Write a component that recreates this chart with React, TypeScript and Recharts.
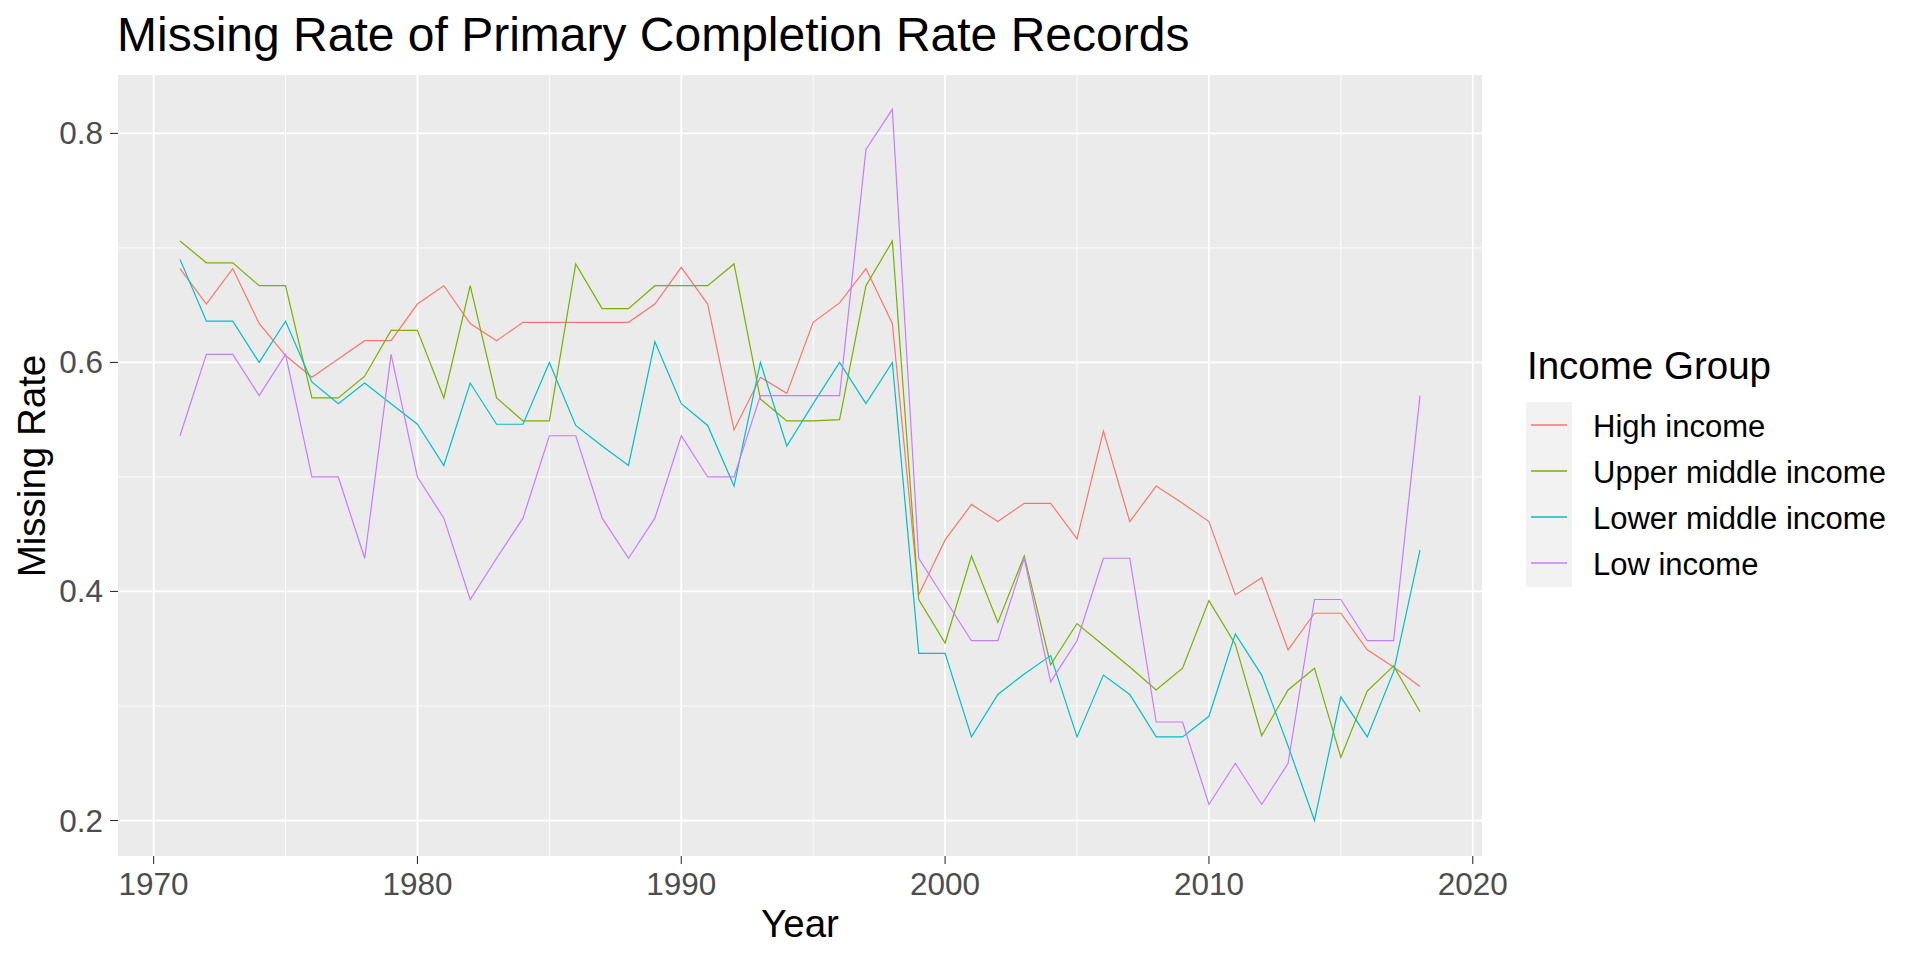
import React from 'react';
import { LineChart, Line, XAxis, YAxis, CartesianGrid, Legend } from 'recharts';

const years = [
  1971, 1972, 1973, 1974, 1975, 1976, 1977, 1978, 1979, 1980, 1981, 1982,
  1983, 1984, 1985, 1986, 1987, 1988, 1989, 1990, 1991, 1992, 1993, 1994,
  1995, 1996, 1997, 1998, 1999, 2000, 2001, 2002, 2003, 2004, 2005, 2006,
  2007, 2008, 2009, 2010, 2011, 2012, 2013, 2014, 2015, 2016, 2017, 2018,
];

const highIncome = [
  0.682, 0.651, 0.682, 0.634, 0.606, 0.587, 0.603, 0.619, 0.619, 0.651, 0.667, 0.634,
  0.619, 0.635, 0.635, 0.635, 0.635, 0.635, 0.651, 0.683, 0.651, 0.541, 0.587, 0.573,
  0.635, 0.652, 0.682, 0.634, 0.397, 0.445, 0.476, 0.461, 0.477, 0.477, 0.446, 0.54,
  0.461, 0.492, 0.477, 0.461, 0.397, 0.412, 0.349, 0.381, 0.381, 0.349, 0.334, 0.317,
];

const upperMiddleIncome = [
  0.706, 0.687, 0.687, 0.667, 0.667, 0.569, 0.569, 0.588, 0.628, 0.628, 0.569, 0.667,
  0.569, 0.549, 0.549, 0.686, 0.647, 0.647, 0.667, 0.667, 0.667, 0.686, 0.568, 0.549,
  0.549, 0.55, 0.667, 0.706, 0.393, 0.355, 0.431, 0.373, 0.431, 0.336, 0.372, 0.353,
  0.334, 0.314, 0.333, 0.392, 0.354, 0.274, 0.314, 0.333, 0.255, 0.313, 0.335, 0.295,
];

const lowerMiddleIncome = [
  0.69, 0.636, 0.636, 0.6, 0.636, 0.583, 0.564, 0.582, 0.564, 0.546, 0.51, 0.582,
  0.546, 0.546, 0.6, 0.545, 0.527, 0.51, 0.618, 0.564, 0.545, 0.492, 0.6, 0.527,
  0.564, 0.6, 0.564, 0.6, 0.346, 0.346, 0.273, 0.31, 0.328, 0.344, 0.273, 0.327,
  0.31, 0.273, 0.273, 0.291, 0.363, 0.327, 0.265, 0.2, 0.308, 0.273, 0.33, 0.436,
];

const lowIncome = [
  0.536, 0.607, 0.607, 0.571, 0.607, 0.5, 0.5, 0.429, 0.607, 0.5, 0.464, 0.393,
  0.429, 0.464, 0.536, 0.536, 0.464, 0.429, 0.464, 0.536, 0.5, 0.5, 0.571, 0.571,
  0.571, 0.571, 0.786, 0.821, 0.429, 0.393, 0.357, 0.357, 0.429, 0.321, 0.357, 0.429,
  0.429, 0.286, 0.286, 0.214, 0.25, 0.214, 0.25, 0.393, 0.393, 0.357, 0.357, 0.571,
];

const xMajorTicks = [1970, 1980, 1990, 2000, 2010, 2020];
const xMinorTicks = [1975, 1985, 1995, 2005, 2015];
const yMajorTicks = [0.2, 0.4, 0.6, 0.8];
const yMinorTicks = [0.3, 0.5, 0.7];

const series = [
  { key: 'high', name: 'High income', color: '#F8766D', values: highIncome },
  { key: 'upper', name: 'Upper middle income', color: '#7CAE00', values: upperMiddleIncome },
  { key: 'lower', name: 'Lower middle income', color: '#00BFC4', values: lowerMiddleIncome },
  { key: 'low', name: 'Low income', color: '#C77CFF', values: lowIncome },
];

const rows = years.map((year, i) => {
  const row: Record<string, number> = { year };
  series.forEach((s) => {
    row[s.key] = s.values[i];
  });
  return row;
});

const FONT = '"Liberation Sans", Arial, Helvetica, sans-serif';

const XTick = ({ x, y, payload }: any) => (
  <text x={x} y={y + 23} textAnchor="middle" fontSize={31.5} fill="#4D4D4D" fontFamily={FONT}>
    {payload.value}
  </text>
);

const YTick = ({ x, y, payload }: any) => (
  <text x={x} y={y + 11} textAnchor="end" fontSize={31.5} fill="#4D4D4D" fontFamily={FONT}>
    {payload.value.toFixed(1)}
  </text>
);

// ggplot-style legend box: title, grey key column, labels
const IncomeLegend = () => (
  <svg width={420} height={280} style={{ display: 'block' }} fontFamily={FONT}>
    <text x={27} y={49} fontSize={38.5} fill="#000000">
      Income Group
    </text>
    <rect x={26} y={72} width={46} height={185} fill="#F2F2F2" />
    {series.map((s, i) => (
      <g key={s.key}>
        <line x1={31} x2={67} y1={95 + i * 46} y2={95 + i * 46} stroke={s.color} strokeWidth={1.6} />
        <text x={93} y={107 + i * 46} fontSize={31} fill="#000000">
          {s.name}
        </text>
      </g>
    ))}
  </svg>
);

export default function App() {
  return (
    <div style={{ position: 'relative', width: 1920, height: 960, background: '#FFFFFF', fontFamily: FONT }}>
      <style>{'body { margin: 0; }'}</style>
      <LineChart
        width={1920}
        height={960}
        data={rows}
        margin={{ top: 75, right: 438, bottom: 0, left: 0 }}
      >
        <CartesianGrid
          fill="#EBEBEB"
          fillOpacity={1}
          stroke="#FFFFFF"
          strokeWidth={0.9}
          horizontalValues={yMinorTicks}
          verticalValues={xMinorTicks}
        />
        <CartesianGrid
          stroke="#FFFFFF"
          strokeWidth={1.8}
          horizontalValues={yMajorTicks}
          verticalValues={xMajorTicks}
        />
        <XAxis
          dataKey="year"
          type="number"
          domain={[1968.65, 2020.35]}
          ticks={xMajorTicks}
          allowDataOverflow
          height={104}
          axisLine={false}
          tickSize={8}
          tickMargin={8}
          tickLine={{ stroke: '#333333', strokeWidth: 1.1 }}
          tick={<XTick />}
        />
        <YAxis
          type="number"
          domain={[0.169, 0.851]}
          ticks={yMajorTicks}
          allowDataOverflow
          width={118}
          axisLine={false}
          tickSize={8}
          tickMargin={7}
          tickLine={{ stroke: '#333333', strokeWidth: 1.1 }}
          tick={<YTick />}
        />
        {series.map((s) => (
          <Line
            key={s.key}
            type="linear"
            dataKey={s.key}
            name={s.name}
            stroke={s.color}
            strokeWidth={1.2}
            dot={false}
            activeDot={false}
            isAnimationActive={false}
          />
        ))}
        <Legend
          layout="vertical"
          align="center"
          verticalAlign="middle"
          content={() => <IncomeLegend />}
          wrapperStyle={{ left: 1500, top: 330, width: 420, height: 280 }}
        />
      </LineChart>
      <svg
        width={1920}
        height={960}
        style={{ position: 'absolute', left: 0, top: 0, pointerEvents: 'none' }}
        fontFamily={FONT}
      >
        <text x={117} y={51} fontSize={48} fill="#000000">
          Missing Rate of Primary Completion Rate Records
        </text>
        <text x={800} y={937} fontSize={38.5} textAnchor="middle" fill="#000000">
          Year
        </text>
        <text transform="translate(45,466) rotate(-90)" fontSize={38.5} textAnchor="middle" fill="#000000">
          Missing Rate
        </text>
      </svg>
    </div>
  );
}
